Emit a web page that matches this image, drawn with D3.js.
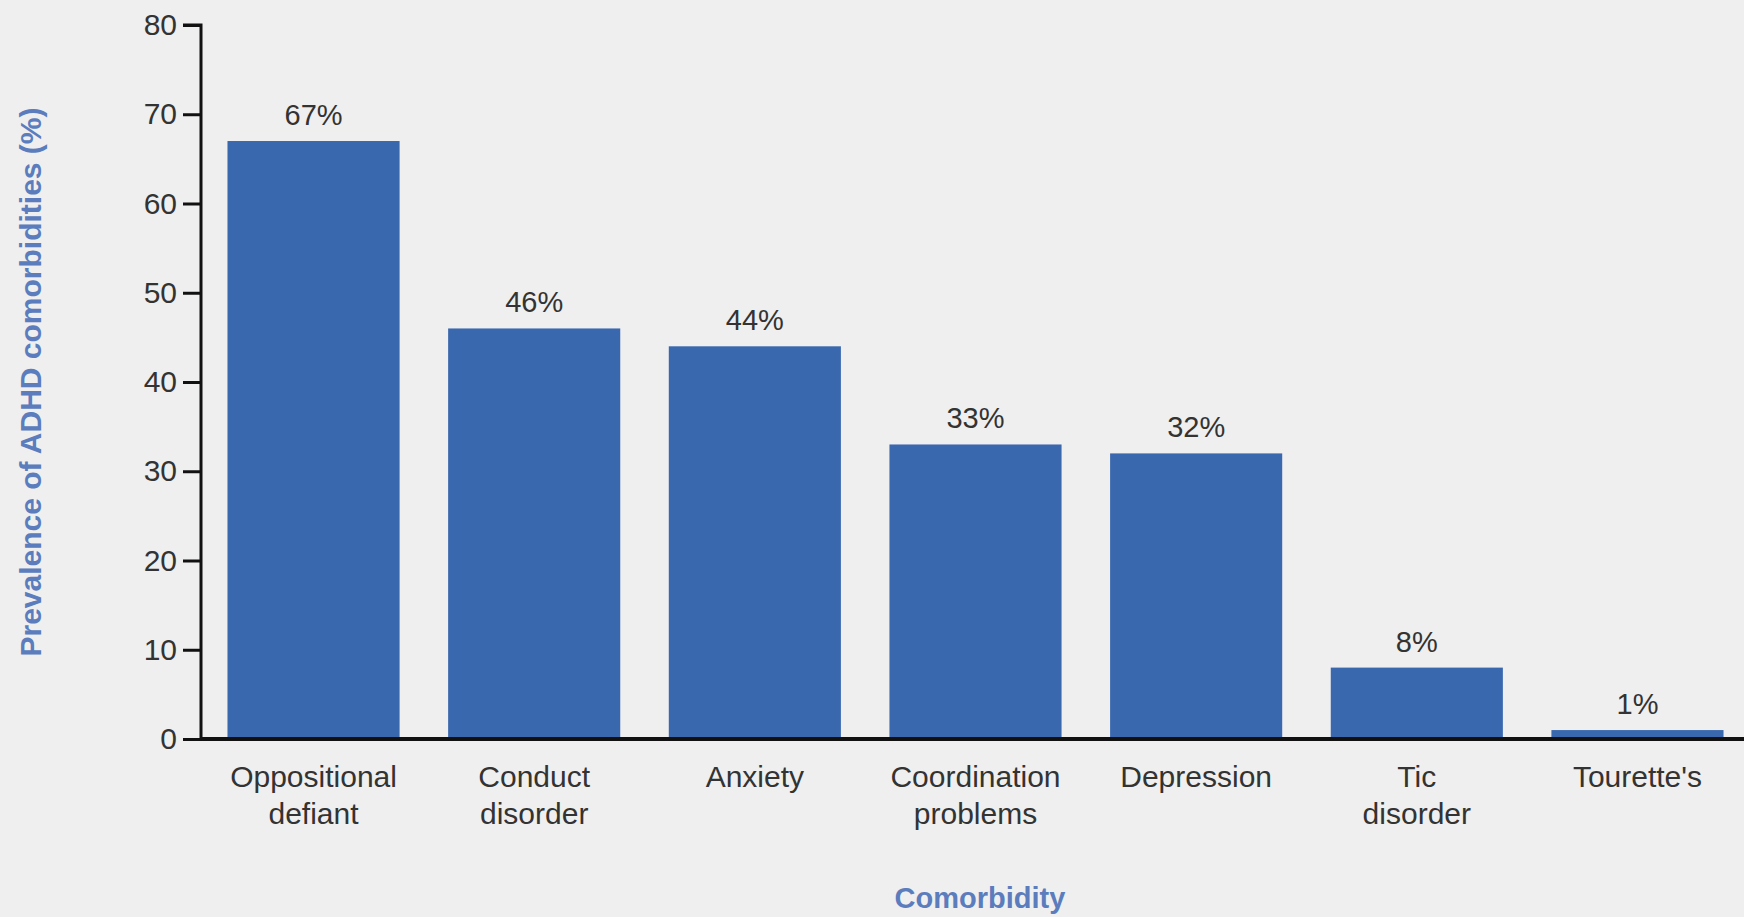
<!DOCTYPE html>
<html><head><meta charset="utf-8">
<script src="https://cdn.jsdelivr.net/npm/d3@7"></script>
<style>
html,body{margin:0;padding:0;background:#efefef;}
svg{display:block;}
text{font-family:"Liberation Sans",Arial,sans-serif;}
</style></head>
<body>
<svg id="chart" width="1744" height="917"></svg>
<script>
const categories = [["Oppositional","defiant"],["Conduct","disorder"],["Anxiety"],["Coordination","problems"],["Depression"],["Tic","disorder"],["Tourette's"]];
const values = [67, 46, 44, 33, 32, 8, 1];
const yTicks = [0, 10, 20, 30, 40, 50, 60, 70, 80];

const svg = d3.select("#chart");
const x0 = 201, x1 = 1750, yTop = 25, yBot = 739;

const x = d3.scaleBand().domain(d3.range(categories.length)).range([x0, x1]).paddingInner(0.22).paddingOuter(0.12);
const y = d3.scaleLinear().domain([0, 80]).range([yBot, yTop]);

// bars
svg.append("g").selectAll("rect").data(values).join("rect")
  .attr("x", (d,i) => x(i)).attr("width", x.bandwidth())
  .attr("y", d => y(d)).attr("height", d => y(0) - y(d))
  .attr("fill", "#3968ae");

// value labels
svg.append("g").selectAll("text").data(values).join("text")
  .attr("x", (d,i) => x(i) + x.bandwidth()/2)
  .attr("y", d => y(d) - 16)
  .attr("text-anchor", "middle")
  .attr("font-size", 29).attr("fill", "#333")
  .text(d => d + "%");

// y axis
const yAxis = d3.axisLeft(y).tickValues(yTicks).tickSize(18).tickPadding(6);
const gy = svg.append("g").attr("transform", `translate(${x0},0)`).call(yAxis);
gy.select(".domain").attr("stroke", "#111").attr("stroke-width", 3).attr("d", `M-18,${yTop}H0V${yBot}`);
gy.selectAll(".tick line").attr("stroke", "#111").attr("stroke-width", 3);
gy.selectAll(".tick text").attr("font-size", 30).attr("fill", "#333").attr("font-family", "Liberation Sans, Arial, sans-serif");

// x axis baseline
const xAxis = d3.axisBottom(x).tickSize(0).tickFormat(() => "");
const gx = svg.append("g").attr("transform", `translate(0,${yBot})`).call(xAxis);
gx.select(".domain").attr("stroke", "#111").attr("stroke-width", 4).attr("d", `M${x0},0H1744`);

// category labels
const cl = svg.append("g").selectAll("text").data(categories).join("text")
  .attr("x", (d,i) => x(i) + x.bandwidth()/2)
  .attr("y", 787)
  .attr("text-anchor", "middle")
  .attr("font-size", 30).attr("fill", "#333");
cl.selectAll("tspan").data(d => d).join("tspan")
  .attr("x", function(){ return d3.select(this.parentNode).attr("x"); })
  .attr("dy", (d,j) => j === 0 ? 0 : 37)
  .text(d => d);

// axis titles
svg.append("text").attr("x", 980).attr("y", 908)
  .attr("text-anchor", "middle").attr("font-size", 29).attr("font-weight", "bold")
  .attr("fill", "#5b7dbd").text("Comorbidity");
svg.append("text").attr("transform", "translate(41,382) rotate(-90)")
  .attr("text-anchor", "middle").attr("font-size", 30).attr("font-weight", "bold")
  .attr("fill", "#5b7dbd").text("Prevalence of ADHD comorbidities (%)");
</script>
</body></html>
